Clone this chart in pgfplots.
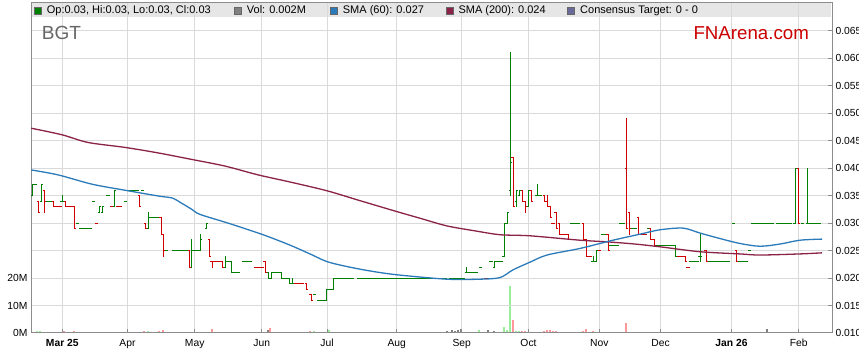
\documentclass[border=0pt]{standalone}
\usepackage{fontspec}
\setmainfont{Liberation Sans}
\usepackage{pgfplots}
\usepackage{pgfplotstable}
\pgfplotsset{compat=1.18}
\definecolor{upc}{HTML}{008000}
\definecolor{dnc}{HTML}{D00000}
\definecolor{smab}{HTML}{2B7BBA}
\definecolor{smam}{HTML}{8B2248}
\definecolor{volg}{HTML}{99EE99}
\definecolor{volr}{HTML}{FF9999}
\definecolor{volk}{HTML}{808080}
\definecolor{gridc}{HTML}{DADADA}
\definecolor{bandc}{HTML}{E6E6E6}
\definecolor{axc}{HTML}{8C8C8C}
\definecolor{fnred}{HTML}{CC0000}
\definecolor{slate}{HTML}{6A6A9A}

% OHLC bars (x in chart pixels, prices in AUD)
\pgfplotstableread{
x o h l c
32.0 0.035 0.037 0.035 0.037
35.2 0.037 0.037 0.037 0.037
41.2 0.034 0.037 0.034 0.037
47.5 0.034 0.034 0.034 0.034
50.7 0.034 0.034 0.034 0.034
62.0 0.034 0.035 0.034 0.034
77.5 0.030 0.030 0.030 0.030
81.0 0.029 0.029 0.029 0.029
84.2 0.029 0.029 0.029 0.029
87.4 0.029 0.029 0.029 0.029
90.5 0.029 0.029 0.029 0.029
93.5 0.034 0.034 0.034 0.034
99.5 0.032 0.033 0.032 0.033
102.5 0.032 0.033 0.032 0.033
108.0 0.035 0.035 0.035 0.035
114.3 0.033 0.036 0.033 0.036
125.8 0.034 0.034 0.034 0.034
130.5 0.036 0.036 0.036 0.036
133.7 0.036 0.036 0.036 0.036
136.9 0.036 0.036 0.036 0.036
142.3 0.036 0.036 0.036 0.036
148.0 0.029 0.032 0.029 0.031
151.2 0.031 0.031 0.031 0.031
154.4 0.031 0.031 0.031 0.031
157.6 0.031 0.031 0.031 0.031
166.8 0.025 0.025 0.025 0.025
173.4 0.025 0.025 0.025 0.025
176.6 0.025 0.025 0.025 0.025
179.8 0.025 0.025 0.025 0.025
183.0 0.025 0.025 0.025 0.025
186.2 0.025 0.025 0.025 0.025
191.5 0.022 0.027 0.022 0.025
194.7 0.025 0.025 0.025 0.025
197.9 0.025 0.025 0.025 0.025
200.3 0.025 0.028 0.025 0.027
206.5 0.029 0.030 0.029 0.030
225.2 0.022 0.024 0.022 0.023
228.4 0.023 0.023 0.023 0.023
231.6 0.023 0.023 0.021 0.021
234.8 0.021 0.021 0.021 0.021
238.0 0.021 0.021 0.021 0.021
244.0 0.023 0.023 0.023 0.023
247.2 0.023 0.023 0.023 0.023
250.4 0.023 0.023 0.023 0.023
268.4 0.021 0.021 0.020 0.020
271.6 0.020 0.021 0.020 0.021
274.8 0.021 0.021 0.021 0.021
278.0 0.021 0.021 0.021 0.021
281.0 0.021 0.021 0.020 0.020
284.2 0.020 0.020 0.020 0.020
287.4 0.020 0.020 0.020 0.020
289.5 0.020 0.020 0.019 0.019
292.0 0.019 0.020 0.019 0.019
314.5 0.017 0.017 0.017 0.017
318.5 0.016 0.016 0.016 0.016
321.7 0.016 0.016 0.016 0.016
324.9 0.016 0.016 0.016 0.016
326.8 0.016 0.018 0.016 0.018
330.0 0.018 0.018 0.018 0.018
333.3 0.018 0.020 0.018 0.020
336.5 0.020 0.020 0.020 0.020
339.7 0.020 0.020 0.020 0.020
342.9 0.020 0.020 0.020 0.020
346.1 0.020 0.020 0.020 0.020
349.3 0.020 0.020 0.020 0.020
352.5 0.020 0.020 0.020 0.020
358.8 0.020 0.020 0.020 0.020
362.0 0.020 0.020 0.020 0.020
365.2 0.020 0.020 0.020 0.020
368.4 0.020 0.020 0.020 0.020
371.6 0.020 0.020 0.020 0.020
374.8 0.020 0.020 0.020 0.020
378.0 0.020 0.020 0.020 0.020
381.2 0.020 0.020 0.020 0.020
384.4 0.020 0.020 0.020 0.020
387.6 0.020 0.020 0.020 0.020
390.8 0.020 0.020 0.020 0.020
394.0 0.020 0.020 0.020 0.020
397.2 0.020 0.020 0.020 0.020
400.4 0.020 0.020 0.020 0.020
403.6 0.020 0.020 0.020 0.020
406.8 0.020 0.020 0.020 0.020
410.0 0.020 0.020 0.020 0.020
413.2 0.020 0.020 0.020 0.020
416.4 0.020 0.020 0.020 0.020
419.6 0.020 0.020 0.020 0.020
422.8 0.020 0.020 0.020 0.020
426.0 0.020 0.020 0.020 0.020
429.2 0.020 0.020 0.020 0.020
432.4 0.020 0.020 0.020 0.020
435.6 0.020 0.020 0.020 0.020
438.8 0.020 0.020 0.020 0.020
442.0 0.020 0.020 0.020 0.020
445.2 0.020 0.020 0.020 0.020
451.0 0.020 0.020 0.020 0.020
454.2 0.020 0.020 0.020 0.020
457.4 0.020 0.020 0.020 0.020
460.6 0.020 0.020 0.020 0.020
463.5 0.020 0.020 0.020 0.020
466.7 0.021 0.022 0.021 0.021
470.0 0.021 0.021 0.021 0.021
473.2 0.021 0.021 0.021 0.021
476.4 0.021 0.021 0.021 0.021
480.5 0.022 0.022 0.022 0.022
491.0 0.023 0.023 0.023 0.023
494.5 0.022 0.023 0.022 0.023
497.7 0.023 0.023 0.023 0.023
500.9 0.023 0.023 0.023 0.023
504.0 0.024 0.030 0.024 0.030
507.2 0.030 0.032 0.030 0.032
510.3 0.036 0.061 0.035 0.041
516.2 0.034 0.036 0.033 0.036
519.5 0.035 0.036 0.035 0.036
528.5 0.033 0.036 0.033 0.036
537.0 0.035 0.037 0.035 0.035
540.2 0.035 0.035 0.035 0.035
571.5 0.030 0.030 0.030 0.030
574.7 0.030 0.030 0.030 0.030
577.9 0.030 0.030 0.030 0.030
593.0 0.023 0.024 0.023 0.023
596.5 0.023 0.025 0.023 0.025
602.7 0.028 0.028 0.028 0.028
605.9 0.028 0.028 0.028 0.028
611.0 0.026 0.026 0.026 0.026
614.2 0.026 0.026 0.026 0.026
617.4 0.026 0.026 0.026 0.026
620.5 0.030 0.030 0.030 0.030
623.7 0.030 0.030 0.030 0.030
632.3 0.029 0.029 0.029 0.029
635.5 0.029 0.029 0.029 0.029
648.3 0.029 0.029 0.029 0.029
657.2 0.026 0.026 0.026 0.026
660.4 0.026 0.026 0.026 0.026
663.6 0.026 0.026 0.026 0.026
666.8 0.026 0.026 0.026 0.026
670.0 0.026 0.026 0.026 0.026
673.2 0.026 0.026 0.026 0.026
675.5 0.026 0.026 0.024 0.024
691.0 0.023 0.023 0.023 0.023
694.2 0.023 0.023 0.023 0.023
697.4 0.023 0.023 0.023 0.023
700.0 0.024 0.028 0.023 0.024
709.2 0.023 0.023 0.023 0.023
712.4 0.023 0.023 0.023 0.023
715.6 0.023 0.023 0.023 0.023
718.8 0.023 0.023 0.023 0.023
722.0 0.023 0.023 0.023 0.023
725.2 0.023 0.023 0.023 0.023
728.4 0.023 0.023 0.023 0.023
733.5 0.030 0.030 0.030 0.030
739.9 0.023 0.023 0.023 0.023
743.1 0.023 0.023 0.023 0.023
746.3 0.023 0.023 0.023 0.023
749.5 0.025 0.025 0.025 0.025
753.0 0.030 0.030 0.030 0.030
756.2 0.030 0.030 0.030 0.030
759.4 0.030 0.030 0.030 0.030
762.6 0.030 0.030 0.030 0.030
765.8 0.030 0.030 0.030 0.030
769.0 0.030 0.030 0.030 0.030
772.2 0.030 0.030 0.030 0.030
777.5 0.030 0.030 0.030 0.030
780.7 0.030 0.030 0.030 0.030
783.9 0.030 0.030 0.030 0.030
787.1 0.030 0.030 0.030 0.030
790.3 0.030 0.030 0.030 0.030
795.0 0.030 0.040 0.030 0.040
802.2 0.030 0.030 0.030 0.030
807.3 0.030 0.040 0.030 0.030
810.5 0.030 0.030 0.030 0.030
813.7 0.030 0.030 0.030 0.030
816.9 0.030 0.030 0.030 0.030
819.5 0.030 0.030 0.030 0.030
}\upbars

\pgfplotstableread{
x o h l c
38.3 0.034 0.034 0.032 0.032
44.3 0.036 0.036 0.032 0.034
53.5 0.034 0.034 0.033 0.033
56.8 0.033 0.033 0.033 0.033
60.0 0.033 0.033 0.033 0.033
65.7 0.034 0.034 0.033 0.033
68.9 0.033 0.033 0.033 0.033
72.0 0.033 0.033 0.033 0.033
74.3 0.033 0.033 0.029 0.029
96.5 0.030 0.030 0.030 0.030
111.5 0.033 0.033 0.033 0.033
117.5 0.033 0.033 0.033 0.033
120.7 0.033 0.033 0.033 0.033
139.3 0.035 0.035 0.033 0.033
145.5 0.030 0.030 0.029 0.029
161.0 0.031 0.031 0.028 0.028
163.5 0.028 0.028 0.024 0.025
189.3 0.025 0.025 0.022 0.022
209.3 0.027 0.027 0.024 0.024
212.0 0.023 0.023 0.022 0.023
215.2 0.023 0.023 0.023 0.023
218.4 0.023 0.023 0.023 0.023
222.0 0.023 0.023 0.022 0.022
255.6 0.022 0.022 0.022 0.022
258.8 0.022 0.022 0.022 0.022
262.0 0.022 0.022 0.022 0.022
265.0 0.023 0.023 0.021 0.021
296.0 0.019 0.019 0.019 0.019
299.2 0.019 0.019 0.019 0.019
302.4 0.019 0.019 0.019 0.019
306.8 0.019 0.019 0.018 0.018
311.0 0.017 0.017 0.016 0.016
486.0 0.020 0.020 0.020 0.020
513.0 0.042 0.042 0.033 0.033
522.7 0.036 0.036 0.034 0.034
525.5 0.034 0.034 0.032 0.033
531.7 0.036 0.036 0.034 0.034
544.3 0.035 0.035 0.034 0.034
547.7 0.034 0.035 0.033 0.033
550.0 0.033 0.033 0.031 0.031
553.0 0.030 0.030 0.030 0.030
556.0 0.032 0.032 0.029 0.029
559.3 0.030 0.030 0.028 0.028
562.5 0.028 0.028 0.028 0.028
565.7 0.028 0.028 0.028 0.028
568.3 0.028 0.028 0.027 0.027
583.3 0.030 0.030 0.027 0.027
586.7 0.027 0.027 0.024 0.024
589.9 0.024 0.024 0.024 0.024
599.5 0.025 0.025 0.025 0.025
608.0 0.028 0.028 0.025 0.025
626.7 0.040 0.049 0.029 0.029
629.3 0.032 0.032 0.028 0.029
638.7 0.031 0.031 0.028 0.028
641.9 0.028 0.028 0.028 0.028
645.1 0.028 0.028 0.028 0.028
650.8 0.029 0.029 0.027 0.027
654.0 0.027 0.027 0.026 0.026
678.7 0.024 0.024 0.024 0.024
681.9 0.024 0.024 0.024 0.024
685.0 0.024 0.024 0.023 0.023
688.0 0.022 0.022 0.022 0.022
706.0 0.025 0.025 0.023 0.023
736.7 0.025 0.025 0.023 0.023
798.7 0.040 0.040 0.030 0.030
}\downbars

% volume (millions of shares)
\pgfplotstableread{
x v
37.0 0.6
40.3 0.6
147.7 0.6
191.0 0.5
199.0 0.5
224.3 0.5
273.7 0.5
313.7 0.85
328.7 1.1
333.7 0.5
337.0 0.5
479.0 1.0
504.0 2.1
506.7 1.0
510.0 17.0
516.0 0.6
518.7 0.6
700.0 0.5
795.0 0.5
}\volup
\pgfplotstableread{
x v
63.7 0.6
73.7 0.6
144.3 0.85
159.3 0.6
162.7 0.95
187.7 0.5
211.7 1.6
221.7 0.5
227.3 0.5
233.7 0.5
254.3 0.5
264.3 0.5
270.3 1.9
306.0 0.5
310.3 0.85
319.3 0.4
512.7 4.6
521.7 0.6
525.0 0.6
530.7 0.5
544.0 0.6
546.7 1.0
550.0 1.0
552.7 0.6
556.0 0.6
567.7 0.5
582.7 0.6
586.0 1.3
592.7 0.6
607.7 0.5
626.0 3.6
628.7 0.5
639.0 0.5
736.7 0.5
797.7 0.5
}\voldn
\pgfplotstableread{
x v
230.3 0.5
267.7 1.0
287.7 0.4
291.0 0.4
303.7 0.4
349.3 0.4
374.3 0.4
377.7 0.4
389.3 0.4
406.0 0.3
414.3 0.3
422.7 0.3
447.3 0.6
451.7 1.0
455.0 0.6
457.7 1.0
460.7 1.3
472.7 0.5
487.7 1.0
494.0 0.6
622.7 0.5
660.0 0.5
675.0 0.5
766.7 1.3
780.0 0.5
}\volflat

% moving averages
\pgfplotstableread{
x v
31 0.0397
58 0.0388
92 0.0371
125 0.0360
160 0.0349
172 0.0346
182 0.0336
192 0.0325
200 0.0316
230 0.0299
263 0.0279
290 0.0260
310 0.0244
327 0.0230
347 0.0221
370 0.0213
397 0.0206
447 0.0198
480 0.0198
500 0.0201
513 0.0215
530 0.0229
547 0.0242
580 0.0254
613 0.0269
640 0.0280
660 0.0288
683 0.0291
700 0.0282
720 0.0272
740 0.0263
760 0.0258
780 0.0262
800 0.0269
822 0.0271
}\smasixty
\pgfplotstableread{
x v
31 0.0473
62 0.0461
88 0.0447
125 0.0438
158 0.0428
192 0.0416
225 0.0404
258 0.0388
290 0.0375
327 0.0359
360 0.0341
397 0.0321
420 0.0309
447 0.0295
475 0.0286
500 0.0279
530 0.0277
580 0.0269
607 0.0266
635 0.0262
660 0.0257
700 0.0248
740 0.0244
760 0.0242
800 0.0244
822 0.0246
}\smatwohundred

\pgfplotsset{
  tickfont/.style={font=\fontsize{10.3bp}{12bp}\selectfont},
  nomark/.style={only marks, mark=*, mark size=0pt, mark options={draw=none, fill=none}, forget plot},
  ohlcv/.style={nomark,
    error bars/.cd, y dir=plus, y explicit, error mark=none,
    error bar style={line width=1bp, color=#1, line cap=rect}},
  ohlco/.style={nomark,
    error bars/.cd, x dir=minus, x fixed=1.6, error mark=none,
    error bar style={line width=1bp, color=#1}},
  ohlcc/.style={nomark,
    error bars/.cd, x dir=plus, x fixed=1.6, error mark=none,
    error bar style={line width=1bp, color=#1}},
}

\begin{document}
\begin{tikzpicture}
\path[use as bounding box] (0bp,0bp) rectangle (859bp,363bp);
% legend band
\fill[bandc] (31bp,346bp) rectangle (831bp,360bp);

% volume axis
\begin{axis}[
  at={(31bp,30bp)}, anchor=south west, scale only axis,
  width=801bp, height=330bp,
  xmin=31, xmax=832, ymin=0, ymax=120.2,
  axis line style={draw=none},
  xtick=\empty,
  ytick={0,10,20}, yticklabels={0M,10M,20M},
  ytick pos=left, tick align=inside, major tick length=4bp,
  tick style={axc, line width=1bp},
  yticklabel style={tickfont, text=black},
]
\addplot[ycomb, color=volg, line width=2bp] table[x=x,y=v] {\volup};
\addplot[ycomb, color=volr, line width=2bp] table[x=x,y=v] {\voldn};
\addplot[ycomb, color=volk, line width=2bp] table[x=x,y=v] {\volflat};
\end{axis}

% price axis
\begin{axis}[
  at={(31bp,30bp)}, anchor=south west, scale only axis,
  width=801bp, height=330bp,
  xmin=31, xmax=832, ymin=0.010, ymax=0.0701,
  xtick={62.3,127.5,194.7,261.7,327,396.7,461.7,528.5,599.3,660.5,731.5,798.7},
  xticklabels={\textbf{Mar 25},Apr,May,Jun,Jul,Aug,Sep,Oct,Nov,Dec,\textbf{Jan 26},Feb},
  ytick={0.010,0.015,0.020,0.025,0.030,0.035,0.040,0.045,0.050,0.055,0.060,0.065},
  scaled y ticks=false,
  yticklabel style={tickfont, text=black, /pgf/number format/.cd, fixed, fixed zerofill, precision=3},
  xticklabel style={tickfont, text=black, yshift=-2.5bp},
  /pgf/number format/assume math mode=true,
  xtick pos=left, ytick pos=right,
  tick align=inside, major tick length=4bp,
  tick style={axc, line width=1bp},
  grid=major, major grid style={gridc, line width=1bp},
  axis line style={axc, line width=1bp},
]
\addplot[ohlcv=upc] table[x=x, y=l, y error expr=\thisrow{h}-\thisrow{l}] {\upbars};
\addplot[ohlco=upc] table[x=x, y=o] {\upbars};
\addplot[ohlcc=upc] table[x=x, y=c] {\upbars};
\addplot[ohlcv=dnc] table[x=x, y=l, y error expr=\thisrow{h}-\thisrow{l}] {\downbars};
\addplot[ohlco=dnc] table[x=x, y=o] {\downbars};
\addplot[ohlcc=dnc] table[x=x, y=c] {\downbars};
\addplot[smooth, no marks, color=smam, line width=1.3bp] table[x=x,y=v] {\smatwohundred};
\addplot[smooth, no marks, color=smab, line width=1.3bp] table[x=x,y=v] {\smasixty};
\end{axis}

% legend band content
\draw[axc, line width=1bp] (31bp,360bp) -- (832bp,360bp);
\begin{scope}[every node/.style={anchor=base west, inner sep=0pt, font=\fontsize{11bp}{13bp}\selectfont}]
\draw[fill=upc, draw=black!60, line width=0.5bp] (34.5bp,349bp) rectangle (41.5bp,356bp);
\node at (46.7bp,349.5bp) {Op:0.03, Hi:0.03, Lo:0.03, Cl:0.03};
\draw[fill=volk, draw=black!60, line width=0.5bp] (234.5bp,349bp) rectangle (241.5bp,356bp);
\node at (246.7bp,349.5bp) {Vol: 0.002M};
\draw[fill=smab, draw=black!60, line width=0.5bp] (330.5bp,349bp) rectangle (337.5bp,356bp);
\node at (342.7bp,349.5bp) {SMA (60): 0.027};
\draw[fill=smam, draw=black!60, line width=0.5bp] (446bp,349bp) rectangle (453bp,356bp);
\node at (458.3bp,349.5bp) {SMA (200): 0.024};
\draw[fill=slate, draw=black!60, line width=0.5bp] (567.5bp,349bp) rectangle (574.5bp,356bp);
\node at (580bp,349.5bp) {Consensus Target: 0 - 0};
\end{scope}
\node[anchor=base west, inner sep=0pt, text=black!60, font=\fontsize{19bp}{22bp}\selectfont] at (41.7bp,323.7bp) {BGT};
\node[anchor=base west, inner sep=0pt, text=fnred, font=\fontsize{18.7bp}{22bp}\selectfont] at (693.3bp,323.7bp) {FNArena.com};
\end{tikzpicture}
\end{document}
